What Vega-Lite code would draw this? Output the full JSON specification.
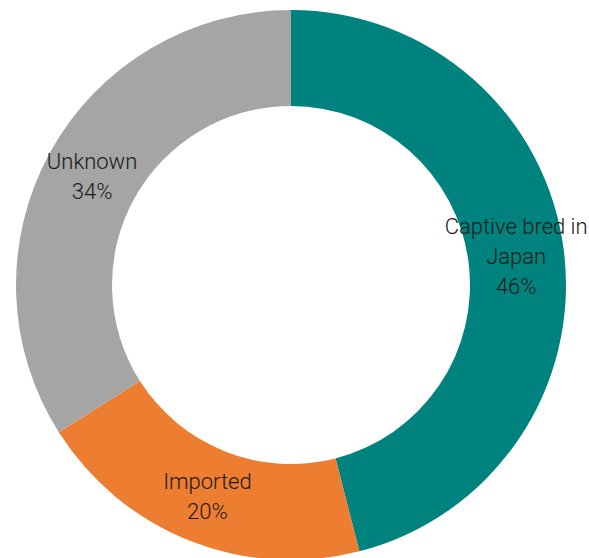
{
  "$schema": "https://vega.github.io/schema/vega-lite/v6.json",
  "width": 582,
  "height": 570,
  "padding": {"left": 0, "top": 0, "right": 7, "bottom": 0},
  "autosize": {"type": "none"},
  "background": "white",
  "view": {"stroke": null},
  "data": {
    "values": [
      {"order": 1, "category": "Captive bred in Japan", "label": "Captive bred in\nJapan\n46%", "lines": 3, "value": 46},
      {"order": 2, "category": "Imported", "label": "Imported\n20%", "lines": 2, "value": 20},
      {"order": 3, "category": "Unknown", "label": "Unknown\n34%", "lines": 2, "value": 34}
    ]
  },
  "encoding": {
    "theta": {"field": "value", "type": "quantitative", "stack": true},
    "order": {"field": "order", "type": "ordinal"}
  },
  "layer": [
    {
      "mark": {"type": "arc", "radius": 275, "radius2": 179, "stroke": null},
      "encoding": {
        "color": {
          "field": "category",
          "type": "nominal",
          "scale": {
            "domain": ["Captive bred in Japan", "Imported", "Unknown"],
            "range": ["#00827F", "#ED7D31", "#A5A5A5"]
          },
          "legend": null
        }
      }
    },
    {
      "mark": {
        "type": "text",
        "radius": 227,
        "dy": -30,
        "font": "Roboto",
        "fontWeight": 300,
        "fontSize": 22,
        "lineHeight": 30,
        "lineBreak": "\n",
        "align": "center",
        "baseline": "middle",
        "color": "#1a1a1a"
      },
      "encoding": {
        "text": {"condition": {"test": "datum.lines == 3", "field": "label"}, "value": ""}
      }
    },
    {
      "mark": {
        "type": "text",
        "radius": 227,
        "dy": -14,
        "font": "Roboto",
        "fontWeight": 300,
        "fontSize": 22,
        "lineHeight": 30,
        "lineBreak": "\n",
        "align": "center",
        "baseline": "middle",
        "color": "#1a1a1a"
      },
      "encoding": {
        "text": {"condition": {"test": "datum.lines == 2", "field": "label"}, "value": ""}
      }
    }
  ]
}
